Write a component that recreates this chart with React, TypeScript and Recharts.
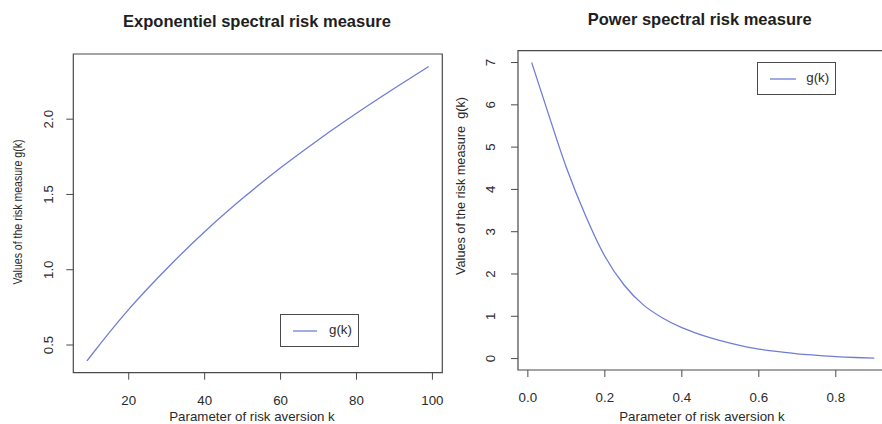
import React from 'react';
import { LineChart, Line, XAxis, YAxis, ReferenceArea, Legend, Label } from 'recharts';

// Exponential spectral risk measure: risk-aversion parameter k and g(k)
const expK = [9, 10, 20, 30, 40, 50, 60, 70, 80, 90, 99];
const expG = [0.394, 0.427, 0.737, 1.007, 1.252, 1.474, 1.677, 1.864, 2.039, 2.205, 2.35];

// Power spectral risk measure: risk-aversion parameter k and g(k)
const powK = [0.01, 0.05, 0.1, 0.15, 0.2, 0.25, 0.3, 0.35, 0.4, 0.45, 0.5, 0.55, 0.6, 0.65, 0.7, 0.75, 0.8, 0.85, 0.9];
const powG = [7.0, 5.88, 4.52, 3.38, 2.42, 1.74, 1.27, 0.96, 0.73, 0.56, 0.425, 0.315, 0.225, 0.165, 0.113, 0.078, 0.047, 0.025, 0.01];

const expXTicks = [20, 40, 60, 80, 100];
const expYTicks = [0.5, 1.0, 1.5, 2.0];
const powXTicks = [0, 0.2, 0.4, 0.6, 0.8];
const powYTicks = [0, 1, 2, 3, 4, 5, 6, 7];

const titles = ['Exponentiel spectral risk measure', 'Power spectral risk measure'];
const xTitle = 'Parameter of risk aversion k';
const yTitles = ['Values of the risk measure g(k)', 'Values of the risk measure  g(k)'];
const seriesName = 'g(k)';

const FONT = '"Liberation Sans", Arial, Helvetica, sans-serif';
const LINE_COLOR = '#6f7dd6';
const BOX_COLOR = '#4a4a4a';
const TEXT_COLOR = '#2a2a2a';

type Pt = { k: number; g: number };

const toPoints = (ks: number[], gs: number[]): Pt[] => ks.map((k, i) => ({ k, g: gs[i] }));

type PanelCfg = {
  left: number;
  width: number;
  height: number;
  top: number;
  bottom: number;
  right: number;
  yAxisWidth: number;
  data: Pt[];
  xDomain: [number, number];
  yDomain: [number, number];
  xTicks: number[];
  yTicks: number[];
  xFmt: (v: number) => string;
  yFmt: (v: number) => string;
  yTickCx: number;
  xTickBaseline: number;
  xTitleCx: number;
  xTitleBaseline: number;
  yTitleCx: number;
  yTitleCy: number;
  yTitleLen: number;
  yTitle: string;
  legendLeft: number;
  legendTop: number;
  legendLine: number;
};

const LegendBox = ({ lineLen }: { lineLen: number }) => (
  <div
    style={{
      width: 79,
      height: 33,
      boxSizing: 'border-box',
      border: `1px solid ${BOX_COLOR}`,
      background: '#fff',
      position: 'relative',
      fontFamily: FONT,
      fontSize: 13.3,
      color: TEXT_COLOR,
    }}
  >
    <svg width={79} height={31} style={{ position: 'absolute', left: 0, top: 0 }}>
      <line x1={12} x2={12 + lineLen} y1={16} y2={16} stroke={LINE_COLOR} strokeWidth={1.3} />
    </svg>
    <span style={{ position: 'absolute', left: 48, top: 7, lineHeight: '16px' }}>{seriesName}</span>
  </div>
);

const Panel = ({ c }: { c: PanelCfg }) => {
  const yTick = (p: any) => (
    <text
      x={c.yTickCx}
      y={p.y}
      transform={`rotate(-90 ${c.yTickCx} ${p.y})`}
      textAnchor="middle"
      dy="0.35em"
      fill={TEXT_COLOR}
      fontSize={13.3}
      fontFamily={FONT}
    >
      {c.yFmt(p.payload.value)}
    </text>
  );
  const xTick = (p: any) => (
    <text x={p.x} y={c.xTickBaseline} textAnchor="middle" fill={TEXT_COLOR} fontSize={13.3} fontFamily={FONT}>
      {c.xFmt(p.payload.value)}
    </text>
  );
  return (
    <div style={{ position: 'absolute', left: c.left, top: 0 }}>
      <LineChart
        width={c.width}
        height={c.height}
        data={c.data}
        margin={{ top: c.top, right: c.right, bottom: 0, left: 0 }}
      >
        <XAxis
          dataKey="k"
          type="number"
          domain={c.xDomain}
          ticks={c.xTicks}
          allowDataOverflow
          axisLine={false}
          tickLine={{ stroke: BOX_COLOR }}
          tickSize={7}
          tick={xTick}
          interval={0}
          height={c.bottom}
        >
          <Label
            content={() => (
              <text x={c.xTitleCx} y={c.xTitleBaseline} textAnchor="middle" fill={TEXT_COLOR} fontSize={13.3} fontFamily={FONT}>
                {xTitle}
              </text>
            )}
          />
        </XAxis>
        <YAxis
          type="number"
          domain={c.yDomain}
          ticks={c.yTicks}
          allowDataOverflow
          axisLine={false}
          tickLine={{ stroke: BOX_COLOR }}
          tickSize={7}
          tick={yTick}
          interval={0}
          width={c.yAxisWidth}
        >
          <Label
            content={() => (
              <text
                x={c.yTitleCx}
                y={c.yTitleCy}
                transform={`rotate(-90 ${c.yTitleCx} ${c.yTitleCy})`}
                textAnchor="middle"
                dy="0.35em"
                fill={TEXT_COLOR}
                fontSize={13.3}
                fontFamily={FONT}
                textLength={c.yTitleLen}
                lengthAdjust="spacingAndGlyphs"
                style={{ whiteSpace: 'pre' }}
              >
                {c.yTitle}
              </text>
            )}
          />
        </YAxis>
        <ReferenceArea
          x1={c.xDomain[0]}
          x2={c.xDomain[1]}
          y1={c.yDomain[0]}
          y2={c.yDomain[1]}
          fill="none"
          fillOpacity={0}
          stroke={BOX_COLOR}
          strokeWidth={1.2}
          ifOverflow="visible"
        />
        <Line
          type="monotone"
          dataKey="g"
          name={seriesName}
          stroke={LINE_COLOR}
          strokeWidth={1.3}
          dot={false}
          activeDot={false}
          isAnimationActive={false}
        />
        <Legend
          layout="horizontal"
          verticalAlign="middle"
          align="center"
          wrapperStyle={{ left: c.legendLeft, top: c.legendTop, width: 79, height: 33 }}
          content={() => <LegendBox lineLen={c.legendLine} />}
        />
      </LineChart>
    </div>
  );
};

const expCfg: PanelCfg = {
  left: 0,
  width: 446,
  height: 424,
  top: 54,
  bottom: 51.3,
  right: 3.7,
  yAxisWidth: 73.3,
  data: toPoints(expK, expG),
  xDomain: [5.4, 102.6],
  yDomain: [0.316, 2.433],
  xTicks: expXTicks,
  yTicks: expYTicks,
  xFmt: (v) => String(v),
  yFmt: (v) => v.toFixed(1),
  yTickCx: 48,
  xTickBaseline: 405,
  xTitleCx: 252,
  xTitleBaseline: 421,
  yTitleCx: 17,
  yTitleCy: 212,
  yTitleLen: 145,
  yTitle: yTitles[0],
  legendLeft: 280,
  legendTop: 314.3,
  legendLine: 24,
};

const powCfg: PanelCfg = {
  left: 441,
  width: 450,
  height: 424,
  top: 50.7,
  bottom: 54,
  right: 3,
  yAxisWidth: 77,
  data: toPoints(powK, powG),
  xDomain: [-0.0256, 0.9356],
  yDomain: [-0.27, 7.28],
  xTicks: powXTicks,
  yTicks: powYTicks,
  xFmt: (v) => v.toFixed(1),
  yFmt: (v) => String(v),
  yTickCx: 49,
  xTickBaseline: 401.5,
  xTitleCx: 261,
  xTitleBaseline: 421,
  yTitleCx: 19,
  yTitleCy: 186,
  yTitleLen: 178,
  yTitle: yTitles[1],
  legendLeft: 316.3,
  legendTop: 61.7,
  legendLine: 26,
};

const titleStyle = (cx: number, top: number): React.CSSProperties => ({
  position: 'absolute',
  left: cx - 200,
  top,
  width: 400,
  textAlign: 'center',
  fontFamily: FONT,
  fontWeight: 'bold',
  fontSize: 16.5,
  lineHeight: '16.5px',
  color: '#1e1e1e',
  whiteSpace: 'nowrap',
});

export default function App() {
  return (
    <div
      style={{
        position: 'absolute',
        left: 0,
        top: 0,
        width: 882,
        height: 424,
        overflow: 'hidden',
        background: '#fff',
      }}
    >
      <Panel c={expCfg} />
      <Panel c={powCfg} />
      <div style={titleStyle(257, 12.7)}>{titles[0]}</div>
      <div style={titleStyle(699.7, 11)}>{titles[1]}</div>
    </div>
  );
}
